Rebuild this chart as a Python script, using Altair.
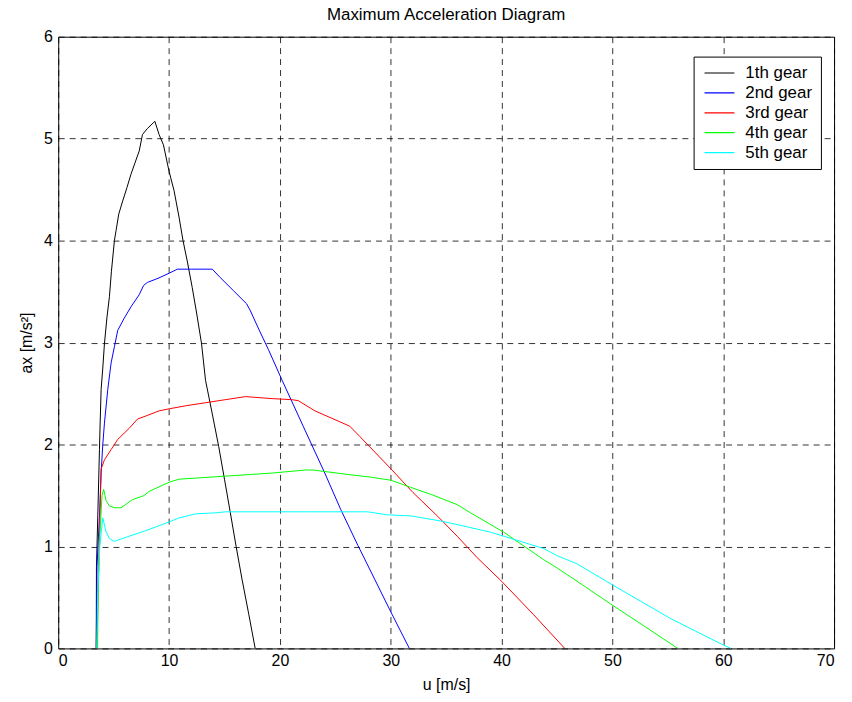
import altair as alt
import pandas as pd

gears = ["1th gear", "2nd gear", "3rd gear", "4th gear", "5th gear"]
colors = ["#000000", "#0000ff", "#ff0000", "#00ff00", "#00ffff"]

g1_u = [3.43, 3.45, 3.57, 3.72, 3.78, 3.87, 4.02, 4.17, 4.4, 4.62, 4.8, 5.07, 5.22, 5.46, 5.82,
        6.2, 6.56, 6.95, 7.31, 7.6, 8.05, 8.72, 9.1, 9.49, 10.0, 10.45, 10.9, 11.26, 11.64, 12.09,
        12.5, 12.93, 13.29, 13.9, 14.48, 15.0, 15.53, 16.05, 16.58, 17.2, 17.77]
g1_a = [0.0, 0.8, 1.3, 1.95, 2.2, 2.54, 2.75, 2.99, 3.25, 3.45, 3.7, 4.0, 4.1, 4.26, 4.39,
        4.52, 4.65, 4.77, 4.88, 5.04, 5.1, 5.17, 5.04, 4.94, 4.68, 4.49, 4.23, 4.0, 3.8, 3.54,
        3.28, 2.99, 2.63, 2.3, 1.98, 1.66, 1.33, 1.0, 0.68, 0.33, 0.0]

g2_u = [3.43, 3.5, 3.72, 3.87, 4.02, 4.17, 4.47, 4.77, 5.07, 5.37, 5.96, 6.56, 7.31, 7.7, 8.05,
        9.0, 10.0, 10.75, 12.0, 13.9, 14.6, 15.8, 17.0, 17.3, 18.1, 18.97, 20.2, 22.1, 24.05,
        25.5, 27.04, 28.5, 30.0, 31.68]
g2_a = [0.0, 0.81, 1.3, 1.72, 2.0, 2.21, 2.54, 2.8, 2.96, 3.12, 3.24, 3.35, 3.47, 3.56, 3.59,
        3.63, 3.68, 3.72, 3.72, 3.72, 3.64, 3.51, 3.38, 3.32, 3.13, 2.93, 2.63, 2.18, 1.72,
        1.36, 1.01, 0.69, 0.36, 0.0]

g3_u = [3.5, 3.6, 3.72, 3.87, 4.17, 4.77, 5.37, 6.41, 7.16, 7.91, 9.1, 10.0, 11.5, 13.3, 15.1,
        16.9, 19.3, 21.06, 21.66, 23.16, 26.3, 27.2, 30.03, 32.0, 34.2, 36.0, 37.8, 39.9, 42.9, 45.7]
g3_a = [0.0, 0.6, 1.1, 1.76, 1.85, 1.95, 2.05, 2.16, 2.25, 2.28, 2.33, 2.35, 2.38, 2.41, 2.44,
        2.47, 2.45, 2.44, 2.43, 2.33, 2.18, 2.08, 1.76, 1.53, 1.3, 1.1, 0.89, 0.67, 0.33, 0.0]

g4_u = [3.55, 3.6, 3.75, 3.95, 4.1, 4.32, 4.6, 5.07, 5.67, 6.71, 7.76, 8.2, 10.0, 10.9, 15.1,
        19.3, 22.3, 23.0, 25.85, 28.2, 30.0, 31.8, 33.9, 36.0, 37.2, 40.2, 43.8, 45.0, 46.8,
        50.06, 53.0, 55.9]
g4_a = [0.0, 0.5, 1.1, 1.5, 1.56, 1.45, 1.4, 1.38, 1.38, 1.46, 1.5, 1.54, 1.63, 1.66, 1.69,
        1.72, 1.75, 1.75, 1.71, 1.68, 1.65, 1.58, 1.5, 1.41, 1.33, 1.14, 0.87, 0.79, 0.66,
        0.42, 0.21, 0.0]

g5_u = [3.47, 3.55, 3.75, 4.02, 4.3, 4.6, 5.07, 6.11, 7.76, 10.0, 10.9, 12.4, 14.2, 15.1, 19.9,
        22.56, 27.9, 29.7, 31.8, 34.5, 36.6, 39.0, 40.8, 43.8, 45.0, 46.8, 50.06, 55.3, 60.07, 60.7]
g5_a = [0.0, 0.5, 1.0, 1.28, 1.15, 1.08, 1.05, 1.09, 1.15, 1.24, 1.28, 1.32, 1.33, 1.34, 1.34,
        1.34, 1.34, 1.31, 1.3, 1.25, 1.2, 1.14, 1.08, 0.98, 0.91, 0.83, 0.62, 0.29, 0.03, 0.0]

x_ticks = [0, 10, 20, 30, 40, 50, 60, 70]
y_ticks = [0, 1, 2, 3, 4, 5, 6]

rows = []
for name, us, accs in zip(gears, [g1_u, g2_u, g3_u, g4_u, g5_u], [g1_a, g2_a, g3_a, g4_a, g5_a]):
    for i, (u, a) in enumerate(zip(us, accs)):
        rows.append({"gear": name, "u": u, "ax": a, "i": i})
df = pd.DataFrame(rows)

FONT = "Liberation Sans"

chart = alt.Chart(df).mark_line(strokeWidth=1, clip=True).encode(
    x=alt.X("u:Q", scale=alt.Scale(domain=[0, 70], nice=False, zero=False),
            axis=alt.Axis(values=x_ticks, title="u [m/s]", labelPadding=4, titlePadding=8)),
    y=alt.Y("ax:Q", scale=alt.Scale(domain=[0, 6], nice=False),
            axis=alt.Axis(values=y_ticks, title="ax [m/s²]", labelPadding=6, titlePadding=9)),
    color=alt.Color("gear:N", scale=alt.Scale(domain=gears, range=colors),
                    legend=alt.Legend(title=None, orient="none", legendX=638.8, legendY=20,
                                      strokeColor="black", fillColor="white", padding=8,
                                      symbolType="stroke", symbolSize=900, symbolStrokeWidth=1.2,
                                      symbolOffset=2, labelOffset=10, labelFontSize=17,
                                      labelFont=FONT, labelColor="black",
                                      clipHeight=17, rowPadding=2)),
    order="i:Q",
).properties(
    width=780, height=615,
    title=alt.TitleParams("Maximum Acceleration Diagram", fontSize=17, fontWeight="normal",
                          font=FONT, color="black", anchor="middle", offset=-12,
                          frame="group", baseline="bottom"),
    padding={"left": 50.5, "top": 27, "right": 10, "bottom": 50},
    autosize="none",
).configure_view(
    stroke="black", strokeWidth=1
).configure_axis(
    grid=True, gridDash=[6, 5], gridColor="black", gridOpacity=1, gridWidth=0.8,
    domain=False, ticks=False, labelFont=FONT, labelFontSize=16, labelColor="black",
    titleFont=FONT, titleFontSize=16, titleFontWeight="normal", titleColor="black"
)

chart.save("out.html", embed_options={"renderer": "svg", "actions": False})
